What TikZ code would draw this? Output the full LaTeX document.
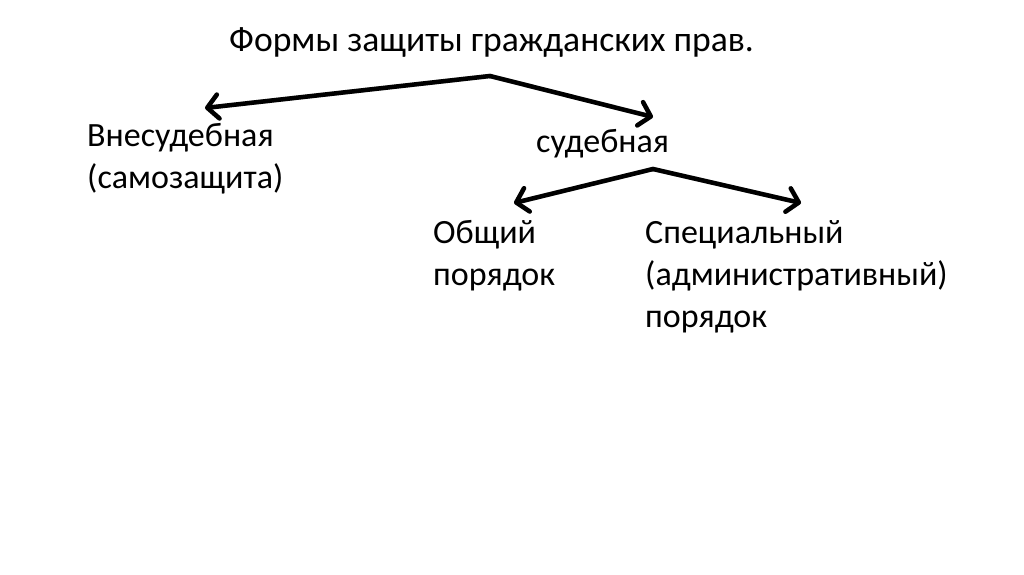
\documentclass[tikz,border=0pt]{standalone}
\usepackage{fontspec}
\setmainfont{Carlito}
\usetikzlibrary{arrows.meta}
\begin{document}
\begin{tikzpicture}[x=1pt,y=-1pt,
  lbl/.style={anchor=base west,inner sep=0pt,align=left,font=\fontsize{34}{42}\selectfont},
  conn/.style={line width=4.5pt,line cap=round,line join=round,
    -{Straight Barb[length=11pt,width=24pt,line width=4.5pt,line cap=round,line join=round]}},
  shad/.style={line width=4.5pt,line cap=round,line join=round,draw=black!22,
    -{Straight Barb[length=11pt,width=24pt,line width=4.5pt,line cap=round,line join=round]}}]
\useasboundingbox[fill=white] (0,0) rectangle (1024,574);
\node[lbl,font=\fontsize{35.6}{42}\selectfont] (title) at (229,51) {Формы защиты гражданских прав.};
\node[lbl] (vne) at (87,188) {Внесудебная\\(самозащита)};
\node[lbl] (sud) at (536,152) {судебная};
\node[lbl] (obs) at (433,285) {Общий\\порядок};
\node[lbl] (spec) at (645,327) {Специальный\\(административный)\\порядок};
\coordinate (a1) at (490,76);
\coordinate (t1) at (205,108);
\coordinate (t2) at (653,117);
\coordinate (a2) at (653,169);
\coordinate (t3) at (514,203);
\coordinate (t4) at (801,203);
\begin{scope}[shift={(1.5,1.5)}]
\draw[shad] (a1) -- (t1);
\draw[shad] (a1) -- (t2);
\draw[shad] (a2) -- (t3);
\draw[shad] (a2) -- (t4);
\end{scope}
\draw[conn] (a1) -- (t1);
\draw[conn] (a1) -- (t2);
\draw[conn] (a2) -- (t3);
\draw[conn] (a2) -- (t4);
\end{tikzpicture}
\end{document}
